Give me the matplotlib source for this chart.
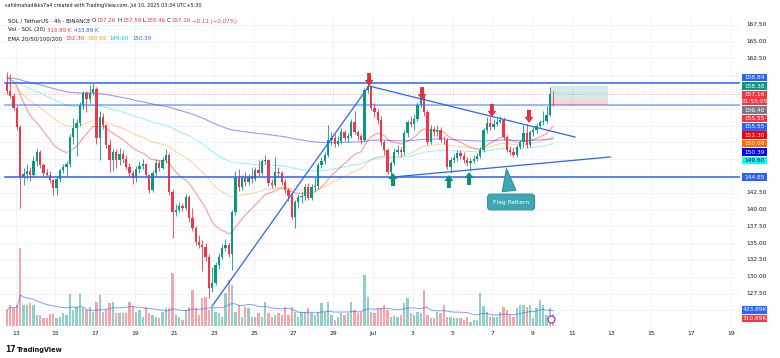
import matplotlib
matplotlib.use("Agg")
import matplotlib.pyplot as plt
import matplotlib.transforms as mtransforms
from matplotlib.patches import Rectangle, Polygon
import numpy as np
import pandas as pd

# SOL / USDT 4h candles, Jun 12 13:30 -> Jul 10 01:30 (UTC+5:30)
opens = [158.8, 157.6, 156.9, 155.1, 152.3, 144.8, 145.3, 145.7, 145.2, 147.2,
         148.5, 146.6, 145.4, 145.2, 144.4, 143.2, 144.6, 145.9, 146.3, 146.8,
         150.8, 152.2, 152.9, 155.5, 157.3, 156.4, 157.3, 158.0, 150.6, 153.8,
         152.6, 149.6, 147.4, 148.6, 147.4, 148.3, 147.5, 146.3, 145.4, 144.7,
         146.0, 146.5, 146.8, 145.1, 142.9, 145.5, 147.0, 146.2, 147.4, 148.1,
         142.6, 139.6, 140.0, 140.6, 140.3, 141.9, 138.7, 137.2, 135.2, 134.8,
         134.5, 133.0, 128.4, 129.1, 131.8, 133.0, 134.3, 134.8, 133.4, 139.6,
         144.7, 143.3, 144.7, 144.1, 144.8, 144.5, 145.9, 145.5, 147.2, 147.4,
         144.0, 143.6, 145.6, 145.4, 144.1, 142.9, 142.0, 138.9, 141.1, 141.9,
         142.0, 143.4, 141.8, 143.4, 143.5, 146.6, 147.3, 148.1, 150.4, 150.7,
         149.7, 150.2, 151.5, 150.6, 150.9, 153.1, 151.5, 150.9, 150.4, 157.8,
         158.4, 155.1, 154.5, 153.3, 150.0, 148.8, 145.6, 147.0, 148.6, 148.9,
         148.5, 151.4, 153.0, 152.8, 153.5, 155.6, 156.8, 154.5, 150.0, 152.0,
         151.5, 151.9, 150.4, 150.3, 146.3, 147.4, 147.7, 148.4, 148.0, 147.4,
         146.9, 147.3, 147.6, 148.0, 148.9, 151.8, 152.9, 152.3, 152.8, 153.1,
         153.4, 150.8, 148.9, 148.6, 148.2, 149.3, 150.0, 151.4, 149.6, 151.5,
         151.8, 152.5, 153.0, 153.2, 154.1, 157.26]
highs = [160.5, 160.2, 157.4, 155.5, 152.6, 146.2, 146.8, 146.3, 148.0, 149.0,
         148.8, 146.9, 146.0, 145.7, 144.6, 145.0, 146.1, 146.8, 147.3, 151.2,
         153.6, 153.5, 156.0, 157.6, 157.6, 158.5, 158.9, 158.3, 154.6, 154.4,
         152.8, 150.5, 149.2, 149.0, 149.1, 148.8, 148.2, 147.0, 145.9, 146.5,
         147.2, 147.6, 147.0, 145.3, 145.9, 147.6, 147.4, 147.8, 149.0, 148.4,
         143.0, 140.8, 141.2, 141.0, 142.3, 142.2, 140.3, 137.6, 136.2, 135.5,
         135.0, 133.4, 131.5, 132.2, 133.6, 134.9, 135.6, 135.0, 140.0, 145.8,
         146.0, 145.2, 145.6, 145.3, 146.2, 146.4, 147.4, 147.6, 148.1, 147.6,
         144.6, 147.8, 146.3, 145.8, 144.5, 143.2, 142.4, 141.5, 142.3, 142.6,
         143.8, 143.9, 143.8, 144.8, 147.0, 147.9, 148.6, 152.6, 151.5, 151.2,
         150.9, 152.1, 151.9, 151.4, 153.5, 154.6, 151.8, 151.3, 158.1, 159.6,
         158.6, 155.8, 155.0, 154.0, 150.4, 149.1, 147.3, 149.2, 149.6, 149.3,
         151.9, 153.4, 153.9, 154.3, 156.0, 157.5, 157.0, 154.8, 152.6, 152.4,
         152.6, 152.3, 150.9, 150.6, 147.8, 148.3, 148.9, 148.8, 148.6, 147.9,
         147.7, 148.2, 148.4, 149.3, 152.1, 153.8, 153.8, 153.5, 153.6, 154.0,
         153.8, 151.1, 149.4, 149.2, 149.6, 150.4, 152.6, 152.8, 151.9, 152.3,
         152.9, 153.4, 154.6, 155.4, 158.2, 157.59]
lows = [157.2, 156.6, 154.8, 151.9, 140.2, 143.6, 144.6, 144.3, 144.9, 146.5,
        146.2, 145.0, 144.8, 144.0, 142.2, 142.1, 144.1, 145.5, 145.0, 146.4,
        149.8, 148.0, 152.4, 155.0, 154.5, 155.8, 157.0, 149.8, 147.4, 152.0,
        149.2, 145.6, 145.7, 146.2, 146.6, 147.0, 146.0, 144.8, 143.8, 144.1,
        145.5, 146.0, 144.8, 142.5, 142.6, 145.2, 145.8, 146.0, 147.0, 142.2,
        135.8, 139.0, 139.6, 139.8, 140.0, 138.2, 136.8, 134.8, 134.3, 130.8,
        132.4, 126.8, 127.8, 128.8, 131.2, 132.6, 133.8, 133.0, 131.0, 139.2,
        142.8, 142.9, 143.5, 143.6, 143.9, 144.2, 145.0, 145.1, 146.8, 143.5,
        143.2, 143.4, 144.9, 143.7, 142.5, 141.3, 138.6, 137.2, 140.3, 141.0,
        141.5, 141.4, 141.5, 142.8, 143.1, 146.2, 146.8, 147.8, 149.6, 149.3,
        149.4, 149.8, 150.2, 150.1, 150.6, 151.2, 150.3, 149.8, 150.0, 157.4,
        154.8, 153.8, 152.8, 149.6, 148.2, 145.3, 145.1, 146.7, 148.2, 147.8,
        148.2, 150.8, 152.3, 151.9, 153.2, 155.3, 154.0, 149.6, 149.8, 151.0,
        151.0, 150.1, 149.8, 146.0, 145.5, 146.9, 147.2, 147.5, 147.0, 146.5,
        145.8, 146.9, 147.2, 147.7, 148.6, 151.4, 151.9, 152.0, 152.4, 152.9,
        150.4, 148.5, 148.1, 147.9, 147.8, 149.0, 149.3, 149.2, 149.3, 151.0,
        151.4, 152.1, 152.6, 152.9, 153.9, 155.46]
closes = [157.6, 156.9, 155.1, 152.3, 144.8, 145.3, 145.7, 145.2, 147.2, 148.5,
          146.6, 145.4, 145.2, 144.4, 143.2, 144.6, 145.9, 146.3, 146.8, 150.8,
          152.2, 152.9, 155.5, 157.3, 156.4, 157.3, 158.0, 150.6, 153.8, 152.6,
          149.6, 147.4, 148.6, 147.4, 148.3, 147.5, 146.3, 145.4, 144.7, 146.0,
          146.5, 146.8, 145.1, 142.9, 145.5, 147.0, 146.2, 147.4, 148.1, 142.6,
          139.6, 140.0, 140.6, 140.3, 141.9, 138.7, 137.2, 135.2, 134.8, 134.5,
          133.0, 128.4, 129.1, 131.8, 133.0, 134.3, 134.8, 133.4, 139.6, 144.7,
          143.3, 144.7, 144.1, 144.8, 144.5, 145.9, 145.5, 147.2, 147.4, 144.0,
          143.6, 145.6, 145.4, 144.1, 142.9, 142.0, 138.9, 141.1, 141.9, 142.0,
          143.4, 141.8, 143.4, 143.5, 146.6, 147.3, 148.1, 150.4, 150.7, 149.7,
          150.2, 151.5, 150.6, 150.9, 153.1, 151.5, 150.9, 150.4, 157.8, 158.4,
          155.1, 154.5, 153.3, 150.0, 148.8, 145.6, 147.0, 148.6, 148.9, 148.5,
          151.4, 153.0, 152.8, 153.5, 155.6, 156.8, 154.5, 150.0, 152.0, 151.5,
          151.9, 150.4, 150.3, 146.3, 147.4, 147.7, 148.4, 148.0, 147.4, 146.9,
          147.3, 147.6, 148.0, 148.9, 151.8, 152.9, 152.3, 152.8, 153.1, 153.4,
          150.8, 148.9, 148.6, 148.2, 149.3, 150.0, 151.4, 149.6, 151.5, 151.8,
          152.5, 153.0, 153.2, 154.1, 157.26, 157.16]
volumes = [432, 567, 486, 567, 2106, 567, 567, 621, 567, 297,
           297, 216, 216, 324, 324, 216, 243, 351, 297, 864,
           432, 513, 864, 486, 432, 513, 378, 648, 837, 378,
           432, 621, 648, 351, 351, 351, 351, 648, 540, 378,
           432, 243, 513, 351, 297, 243, 216, 378, 486, 486,
           1431, 297, 243, 162, 432, 513, 972, 486, 297, 756,
           783, 432, 567, 378, 351, 243, 891, 1242, 1107, 378,
           567, 243, 513, 486, 243, 243, 351, 243, 648, 351,
           243, 297, 351, 297, 513, 297, 513, 378, 243, 378,
           378, 486, 351, 297, 378, 621, 378, 648, 297, 162,
           243, 351, 297, 351, 648, 432, 351, 378, 1377, 783,
           378, 351, 486, 486, 567, 432, 243, 270, 243, 297,
           621, 756, 351, 297, 378, 351, 972, 297, 216, 216,
           378, 351, 567, 243, 243, 216, 216, 216, 162, 243,
           108, 162, 162, 891, 540, 378, 243, 243, 243, 378,
           513, 432, 297, 243, 486, 567, 567, 513, 567, 216,
           486, 702, 567, 297, 486, 310.89]  # thousands

ema_periods = [20, 50, 100, 200]
ema_start = [159.7, 158.5, 159.3, 159.6]   # EMA values at first visible candle
ema_colors = ['#ff0000', '#ff9800', '#00e5ff', '#0000ff']

day_labels = ['13', '15', '17', '19', '21', '23', '25', '27', '29', 'Jul',
              '3', '5', '7', '9', '11', '13', '15', '17', '19']

levels = [158.84, 155.55, 144.85]
# drawn lines: (candle, price, candle, price)
trend_lines = [(62.2, 125.8, 109.1, 158.24),
               (109.4, 158.39, 171.6, 150.8),
               (116.6, 144.85, 182.2, 147.83)]
sell_marks = [(109.4, 158.4), (125.4, 156.3), (146.5, 153.8), (157.7, 152.9)]
buy_marks = [(116.6, 145.45), (133.5, 145.15), (139.6, 145.6)]
entry, target, stop = 156.40, 158.38, 155.55
position_span = (164.3, 181.5)

axis_labels = [158.84, 158.38, 157.16, 156.40, 155.55, 155.55, 152.30, 150.69, 150.39, 149.60, 144.85]
axis_texts = ['158.84', '158.38', '157.16\n01:55:05', '156.40', '155.55', '155.55',
              '152.30', '150.69', '150.39', '149.60', '144.85']
axis_colors = ['#2962ff', '#089981', '#f23645', '#787b86', '#f23645', '#2962ff',
               '#ff0000', '#ff6d00', '#0000ff', '#00ffff', '#2962ff']
vol_labels = [433.89, 310.89]
vol_texts = ['433.89K', '310.89K']
vol_colors = ['#2962ff', '#f23645']

UP, DOWN, DARK = '#089981', '#f23645', '#131722'
W, H = 780, 358
fig = plt.figure(figsize=(W / 100, H / 100), dpi=100)


def box(x0, y0, x1, y1):
    return [x0 / W, 1 - y1 / H, (x1 - x0) / W, (y1 - y0) / H]


axg = fig.add_axes(box(0, 14, 740, 328))
axv = fig.add_axes(box(0, 14, 740, 328), sharex=axg)
ax = fig.add_axes(box(0, 14, 740, 328), sharex=axg)
axr = fig.add_axes(box(740, 14, 780, 328))
for a in (axg, axv, ax, axr):
    a.axis('off')
ax.set_xlim(-2.115, 221.45)
ax.set_ylim(122.38, 169.11)
axg.set_ylim(122.38, 169.11)
axr.set_ylim(122.38, 169.11)
axr.set_xlim(0, 1)
axv.set_ylim(-54, 8424)

# grid
price_ticks = np.arange(125.0, 168, 2.5)
day_pos = 2.625 + 12 * np.arange(len(day_labels))
for t in price_ticks:
    axg.axhline(t, color='#f0f3fa', lw=0.7)
for d in day_pos:
    axg.axvline(d, color='#f0f3fa', lw=0.7)

x = np.arange(len(closes))
o, hi, lo, c = map(np.array, (opens, highs, lows, closes))
col = np.where(c >= o, UP, DOWN)

# volume
axv.bar(x, volumes, width=0.7, color=col, alpha=0.45, lw=0)
vol_ma = pd.Series(volumes).rolling(20, min_periods=1).mean()
axv.plot(x, vol_ma, color='#2962ff', lw=0.7, alpha=0.6)

# EMAs
for p, s, cl in zip(ema_periods, ema_start, ema_colors):
    a = 2 / (p + 1)
    e = [s]
    for v in closes[1:]:
        e.append(a * v + (1 - a) * e[-1])
    ax.plot(x, e, color=cl, lw=0.8, alpha=0.4, zorder=2)

# candles
ax.vlines(x, lo, hi, colors=col, lw=0.6, zorder=3)
ax.bar(x, np.maximum(np.abs(c - o), 0.08), bottom=np.minimum(o, c), width=0.7,
       color=col, lw=0, zorder=4)

# levels and drawings
for lv in levels:
    ax.axhline(lv, xmin=5 / 740, color='#2962ff', lw=1.1,
               alpha=0.6 if lv == 155.55 else 1, zorder=5)
ax.axhline(closes[-1], color=DOWN, lw=0.6, ls=(0, (1, 2)), alpha=0.6, zorder=1)
for k1, p1, k2, p2 in trend_lines:
    ax.plot([k1, k2], [p1, p2], color='#2962ff', lw=0.9, zorder=5)

kx, py = 1 / 3.31, 1 / 6.72   # candle / price units per pixel
shape = [(0, 0), (-4.5, 6), (-2, 6), (-2, 13), (2, 13), (2, 6), (4.5, 6)]
for k, p in sell_marks:
    ax.add_patch(Polygon([(k + dx * kx, p + dy * py) for dx, dy in shape],
                         closed=True, fc='#e0313f', ec='none', zorder=7))
for k, p in buy_marks:
    ax.add_patch(Polygon([(k + dx * kx, p - dy * py) for dx, dy in shape],
                         closed=True, fc='#0a8f78', ec='none', zorder=7))

ax.add_patch(Rectangle((position_span[0], entry), position_span[1] - position_span[0],
                       target - entry, fc=UP, alpha=0.18, lw=0, zorder=1))
ax.add_patch(Rectangle((position_span[0], stop), position_span[1] - position_span[0],
                       entry - stop, fc=DOWN, alpha=0.22, lw=0, zorder=1))

ax.annotate('Flag Pattern', xy=(150.8, 146.5), xytext=(152.3, 141.13),
            ha='center', va='center', fontsize=4.3, color='white', zorder=8,
            bbox=dict(boxstyle='round,pad=0.9,rounding_size=0.5', fc='#3fa7b4',
                      ec='#2b93a0', lw=0.8),
            arrowprops=dict(arrowstyle='wedge,tail_width=1.0', mutation_scale=10,
                            fc='#3fa7b4', ec='#2b93a0', lw=0.8, relpos=(0.47, 1.0)))

axv.plot([164.5], [190], marker='o', ms=5, mfc='white', mec='#9c27b0', mew=0.8)

# time axis
tb = mtransforms.blended_transform_factory(ax.transData, ax.transAxes)
for d, lab in zip(day_pos, day_labels):
    ax.text(d, -0.017, lab, transform=tb, ha='center', va='center',
            fontsize=4.3, color=DARK, clip_on=False)


# right price scale labels: anchor one label, stack the rest above / below it
def stack(ys, hs, anchor):
    ys = list(ys)
    for i in range(anchor - 1, -1, -1):
        ys[i] = max(ys[i], ys[i + 1] + (hs[i] + hs[i + 1]) / 2)
    for i in range(anchor + 1, len(ys)):
        ys[i] = min(ys[i], ys[i - 1] - (hs[i] + hs[i - 1]) / 2)
    return ys


def hgt(t):
    return 15.6 if '\n' in t else 8.4


ys = stack([ax.transData.transform((0, v))[1] for v in axis_labels],
           [hgt(t) for t in axis_texts], 1)
ys += stack([axv.transData.transform((0, v))[1] for v in vol_labels],
            [hgt(t) for t in vol_texts], 0)
texts = axis_texts + vol_texts
colors = axis_colors + vol_colors
hs = [hgt(t) for t in texts]
rt = mtransforms.blended_transform_factory(axr.transAxes, mtransforms.IdentityTransform())
for y, hh, t, cl in zip(ys, hs, texts, colors):
    axr.add_patch(Rectangle((0.05, y - hh / 2 + 0.4), 0.63, hh - 0.8, fc=cl, lw=0,
                            transform=rt, clip_on=False))
    axr.text(0.365, y, t, transform=rt, ha='center', va='center', fontsize=4.2,
             color=DARK if cl == '#00ffff' else 'white', linespacing=1.45)
for t in price_ticks:
    yd = ax.transData.transform((0, t))[1]
    top = ax.transData.transform((0, 168.3))[1]
    if yd > top or any(abs(yd - y) < hh / 2 + 3.5 for y, hh in zip(ys, hs)):
        continue
    axr.text(0.42, yd, f'{t:.2f}', transform=rt, ha='center', va='center',
             fontsize=4.2, color=DARK)

# header
renderer = fig.canvas.get_renderer()


def row(x0, y0, pieces, size, gap=2.5):
    xx = x0
    for txt, cl in pieces:
        tt = fig.text(xx / W, 1 - y0 / H, txt, color=cl, fontsize=size, va='center', ha='left')
        xx += tt.get_window_extent(renderer=renderer).width + gap


row(5, 6, [('sahilmahadikks7a4 created with TradingView.com, Jul 10, 2025 03:34 UTC+5:30', DARK)], 3.5)
row(8, 21, [('SOL / TetherUS · 4h · BINANCE', DARK), ('O', DARK), ('157.26', DOWN),
            ('H', DARK), ('157.59', DOWN), ('L', DARK), ('155.46', DOWN),
            ('C', DARK), ('157.16', DOWN), ('−0.11 (−0.07%)', DOWN)], 3.95, gap=1.0)
row(8, 30, [('Vol · SOL (20)', DARK), ('310.89 K', DOWN), ('433.89 K', '#2962ff')], 3.95, gap=2)
row(8, 39, [('EMA 20/50/100/200', DARK), ('152.30', '#f23645'), ('150.69', '#ff9800'),
            ('149.60', '#00bcd4'), ('150.39', '#2962ff')], 3.95, gap=3)
fig.text(5 / W, 1 - 350 / H, '17', fontsize=5.5, fontweight='bold', color=DARK, va='center')
fig.text(17 / W, 1 - 350 / H, 'TradingView', fontsize=4.8, fontweight='bold', color=DARK, va='center')

fig.savefig('out.png', dpi=100, facecolor='white')
